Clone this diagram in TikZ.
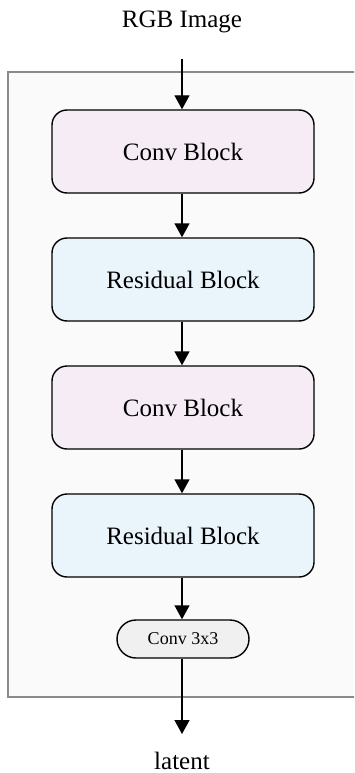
\documentclass[tikz,border=0pt]{standalone}
\usepackage{fontspec}
\setmainfont{Liberation Serif}
\usetikzlibrary{arrows.meta}
\definecolor{framefill}{HTML}{FAFAFA}
\definecolor{framedraw}{HTML}{8A8A8A}
\definecolor{convfill}{HTML}{F6ECF5}
\definecolor{resfill}{HTML}{EAF4FB}
\definecolor{smallfill}{HTML}{F0F0F0}
\tikzset{
  block/.style={draw=black, line width=1.4pt, rounded corners=15pt,
    minimum width=262pt, minimum height=83pt, inner sep=0pt,
    font=\fontsize{25}{28}\selectfont},
  convblock/.style={block, fill=convfill},
  resblock/.style={block, fill=resfill},
  pill/.style={draw=black, line width=1.4pt, rounded corners=19pt, fill=smallfill,
    minimum width=132pt, minimum height=38pt, inner sep=0pt,
    font=\fontsize{18}{20}\selectfont},
  label/.style={font=\fontsize{25}{28}\selectfont, inner sep=0pt, anchor=base},
  flow/.style={line width=1.4pt, -{Triangle[length=14pt,width=15pt]}}
}
\begin{document}
\begin{tikzpicture}[x=1pt,y=-1pt]
  \useasboundingbox (0,0) rectangle (354,773);
  \clip (0,0) rectangle (354,773);
  % enclosing frame
  \draw[fill=framefill, draw=framedraw, line width=1.2pt] (8,72) rectangle (360,697);
  % labels
  \node[label] (rgb) at (182,28) {RGB Image};
  \node[label] (lat) at (182,769) {latent};
  \coordinate (in) at (182,59);
  \coordinate (out) at (182,734);
  % stages
  \node[convblock] (c1) at (183,151.5) {Conv Block};
  \node[resblock]  (r1) at (183,279.5) {Residual Block};
  \node[convblock] (c2) at (183,407.5) {Conv Block};
  \node[resblock]  (r2) at (183,535.5) {Residual Block};
  \node[pill]      (c3) at (183,639) {Conv 3x3};
  % connectors
  \draw[flow] (in) -- (in |- c1.north);
  \draw[flow] (c1.south -| in) -- (in |- r1.north);
  \draw[flow] (r1.south -| in) -- (in |- c2.north);
  \draw[flow] (c2.south -| in) -- (in |- r2.north);
  \draw[flow] (r2.south -| in) -- (in |- c3.north);
  \draw[flow] (c3.south -| in) -- (out);
\end{tikzpicture}
\end{document}
